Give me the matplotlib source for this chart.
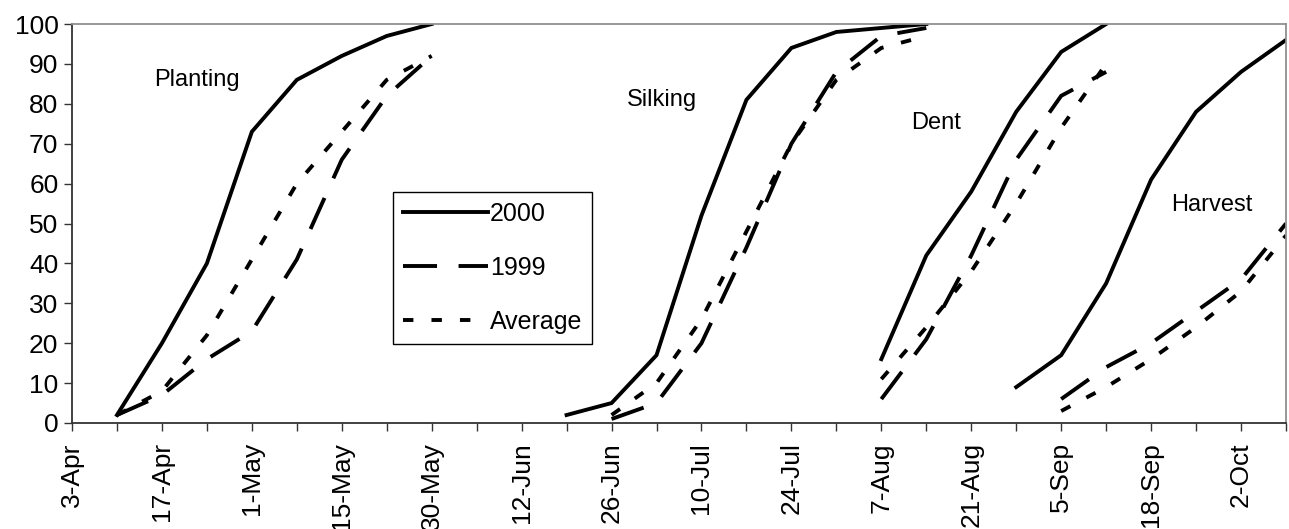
import numpy as np
import matplotlib
matplotlib.use("Agg")
import matplotlib.pyplot as plt
from matplotlib.lines import Line2D

plt.rcParams['font.family'] = ['Liberation Sans', 'DejaVu Sans']
plt.rcParams['lines.scale_dashes'] = False

# weekly category axis
categories = ['3-Apr', '10-Apr', '17-Apr', '24-Apr', '1-May', '8-May', '15-May', '22-May',
              '30-May', '5-Jun', '12-Jun', '19-Jun', '26-Jun', '3-Jul', '10-Jul', '17-Jul',
              '24-Jul', '31-Jul', '7-Aug', '14-Aug', '21-Aug', '28-Aug', '5-Sep', '11-Sep',
              '18-Sep', '25-Sep', '2-Oct', '9-Oct']
shown_labels = ['3-Apr', '17-Apr', '1-May', '15-May', '30-May', '12-Jun', '26-Jun', '10-Jul',
                '24-Jul', '7-Aug', '21-Aug', '5-Sep', '18-Sep', '2-Oct']

# Planting
planting_2000_start = '10-Apr'
planting_2000 = [2, 20, 40, 73, 86, 92, 97, 100]
planting_1999_start = '10-Apr'
planting_1999 = [2, 7, 16, 23, 41, 66, 82, 92]
planting_avg_start = '10-Apr'
planting_avg = [2, 8, 22, 41, 60, 73, 86, 92]

# Silking
silking_2000_start = '19-Jun'
silking_2000 = [2, 5, 17, 52, 81, 94, 98, 99, 100]
silking_1999_start = '26-Jun'
silking_1999 = [1, 5, 20, 44, 70, 88, 97, 99]
silking_avg_start = '26-Jun'
silking_avg = [2, 10, 26, 48, 70, 86, 94, 97]

# Dent
dent_2000_start = '7-Aug'
dent_2000 = [16, 42, 58, 78, 93, 100]
dent_1999_start = '7-Aug'
dent_1999 = [6, 21, 42, 66, 82, 88]
dent_avg_start = '7-Aug'
dent_avg = [11, 24, 38, 55, 74, 90]

# Harvest
harvest_2000_start = '28-Aug'
harvest_2000 = [9, 17, 35, 61, 78, 88, 96]
harvest_1999_start = '5-Sep'
harvest_1999 = [6, 14, 20, 28, 36, 50]
harvest_avg_start = '5-Sep'
harvest_avg = [3, 9, 16, 24, 33, 47]

stage_labels = ['Planting', 'Silking', 'Dent', 'Harvest']
series_labels = ['2000', '1999', 'Average']

LW = 2.8
styles = {
    '2000': dict(linestyle='-'),
    '1999': dict(linestyle=(0, (24.5, 15.5))),
    'Average': dict(linestyle=(0, (7.5, 13.0))),
}

fig = plt.figure(figsize=(12.89, 5.29), dpi=100)
ax = fig.add_axes([72 / 1289, 1 - 423 / 529, (1286 - 72) / 1289, (423 - 24) / 529])

def draw(start, vals, key):
    i0 = categories.index(start)
    x = np.arange(i0, i0 + len(vals))
    ax.plot(x, vals, color='black', lw=LW, solid_joinstyle='miter',
            dash_capstyle='butt', dash_joinstyle='miter', **styles[key])

groups = [
    (planting_2000_start, planting_2000, planting_1999_start, planting_1999, planting_avg_start, planting_avg),
    (silking_2000_start, silking_2000, silking_1999_start, silking_1999, silking_avg_start, silking_avg),
    (dent_2000_start, dent_2000, dent_1999_start, dent_1999, dent_avg_start, dent_avg),
    (harvest_2000_start, harvest_2000, harvest_1999_start, harvest_1999, harvest_avg_start, harvest_avg),
]
for s0, v0, s1, v1, s2, v2 in groups:
    draw(s0, v0, '2000')
    draw(s1, v1, '1999')
    draw(s2, v2, 'Average')

ax.set_xlim(0, len(categories) - 1)
ax.set_ylim(0, 100)
ax.set_yticks(np.arange(0, 101, 10))
ax.set_xticks(np.arange(len(categories)))
ax.set_xticklabels([c if c in shown_labels else '' for c in categories], rotation=90)

ax.tick_params(axis='both', direction='out', length=5.8, width=1.0, color='#333333',
               labelcolor='black')
ax.tick_params(axis='y', pad=4, labelsize=19)
ax.tick_params(axis='x', pad=8, labelsize=19)

for side in ['top', 'right']:
    ax.spines[side].set_color('#909090')
    ax.spines[side].set_linewidth(1.3)
for side in ['left', 'bottom']:
    ax.spines[side].set_color('#333333')
    ax.spines[side].set_linewidth(1.3)

# stage annotations
stage_pos = {'Planting': (1.82, 86), 'Silking': (12.33, 81), 'Dent': (18.67, 75.2), 'Harvest': (24.44, 54.6)}
for lab in stage_labels:
    xx, yy = stage_pos[lab]
    ax.text(xx, yy, lab, fontsize=17, ha='left', va='center')

handles = [Line2D([], [], color='black', lw=LW, dash_capstyle='butt', **styles[k]) for k in series_labels]
leg = ax.legend(handles, series_labels, loc='upper left',
                bbox_to_anchor=((393 - 72) / 1214, (423 - 192) / 399),
                fontsize=18, frameon=True, fancybox=False, edgecolor='black',
                handlelength=3.4, handletextpad=0.08, labelspacing=1.2,
                borderpad=0.4, borderaxespad=0, framealpha=1)
leg.get_frame().set_linewidth(1.0)

fig.savefig('out.png', dpi=100)
